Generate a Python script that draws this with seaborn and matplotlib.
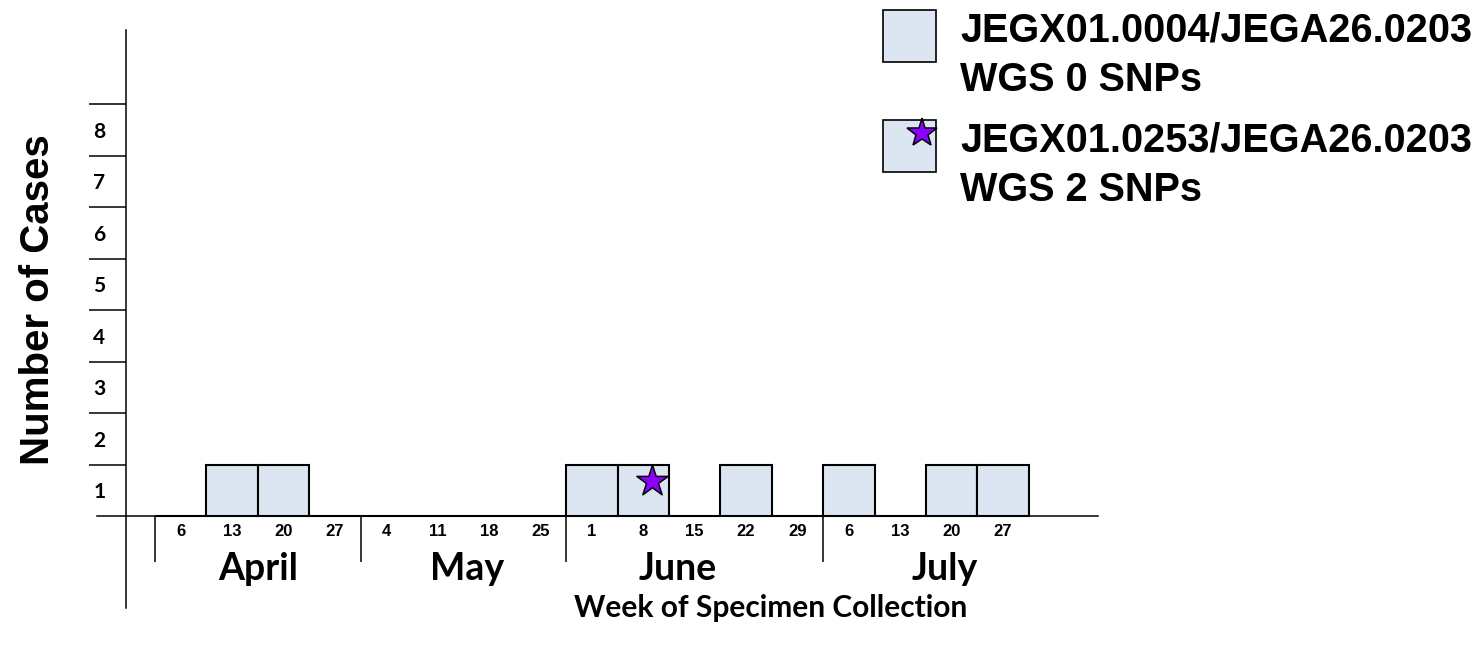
import numpy as np
import pandas as pd
import seaborn as sns
import matplotlib.pyplot as plt
from matplotlib.patches import Rectangle

# weeks of specimen collection (week starting dates)
settimane = ["Apr 6", "Apr 13", "Apr 20", "Apr 27",
             "May 4", "May 11", "May 18", "May 25",
             "Jun 1", "Jun 8", "Jun 15", "Jun 22", "Jun 29",
             "Jul 6", "Jul 13", "Jul 20", "Jul 27"]
giorni = ["6", "13", "20", "27", "4", "11", "18", "25",
          "1", "8", "15", "22", "29", "6", "13", "20", "27"]
casi = [0, 1, 1, 0, 0, 0, 0, 0, 1, 1, 0, 1, 0, 1, 0, 1, 1]
settimana_2snp = "Jun 8"
mesi = ["April", "May", "June", "July"]
prima_settimana_mese = ["Apr 6", "May 4", "Jun 1", "Jul 6"]
yticks = [1, 2, 3, 4, 5, 6, 7, 8]
legenda = ["JEGX01.0004/JEGA26.0203\nWGS 0 SNPs",
           "JEGX01.0253/JEGA26.0203\nWGS 2 SNPs"]

df = pd.DataFrame({"Settimana": settimane, "Casi": casi})

blu = "#DCE6F2"
viola = "#8B00FF"
calibri = "Lato"
arial = "Liberation Sans"

sns.set_style("white")
plt.rcParams["font.family"] = [arial, "DejaVu Sans"]
plt.rcParams["text.color"] = "black"
plt.rcParams["xtick.color"] = "black"
plt.rcParams["ytick.color"] = "black"

W, H = 1480, 651
fig = plt.figure(figsize=(W / 100, H / 100), dpi=100)
ax = fig.add_axes([0, 0, 1, 1])
ax.set_facecolor("none")

sns.barplot(data=df, x="Settimana", y="Casi", order=settimane, color=blu,
            saturation=1, width=1, edgecolor="black", linewidth=1.5, ax=ax)

# caso con 2 SNP: stella nella barra
pos = settimane.index(settimana_2snp)
ax.scatter([pos + 0.17], [casi[pos] - 0.32], marker="*", s=560, c=viola,
           edgecolors="black", linewidths=1.1, zorder=5)

ax.set_xlim(-3.514, 25.28)
ax.set_ylim(-2.621, 10.02)

for s in ["top", "right"]:
    ax.spines[s].set_visible(False)
ax.spines["left"].set_position(("data", -1.06))
ax.spines["left"].set_bounds(-1.79, 9.44)
ax.spines["bottom"].set_position(("data", 0))
ax.spines["bottom"].set_bounds(-1.63, 17.85)
for s in ["left", "bottom"]:
    ax.spines[s].set_linewidth(1.1)
    ax.spines[s].set_color("black")

# asse y
ax.set_yticks(yticks)
ax.set_yticklabels([])
ax.set_yticks([t - 0.5 for t in yticks], minor=True)
ax.set_yticklabels([str(t) for t in yticks], minor=True,
                   fontfamily=calibri, fontweight="bold", fontsize=15)
ax.tick_params(axis="y", which="major", left=True, direction="out", length=27, width=1.1)
ax.tick_params(axis="y", which="minor", left=True, length=0, pad=15)

# asse x
sep = [settimane.index(w) - 0.5 for w in prima_settimana_mese]
ax.set_xticks(sep)
ax.set_xticklabels([])
ax.set_xticks(range(len(settimane)), minor=True)
ax.set_xticklabels(giorni, minor=True, fontfamily=arial, fontweight="bold", fontsize=12)
ax.tick_params(axis="x", which="major", bottom=True, direction="out", length=33, width=1.1)
ax.tick_params(axis="x", which="minor", bottom=True, length=0, pad=6)
ax.set_xlabel("")
ax.set_ylabel("")

centri_mesi = [1.5, 5.57, 9.68, 14.87]
for m, c in zip(mesi, centri_mesi):
    ax.text(c, -1.25, m, ha="center", va="baseline", fontfamily=calibri,
            fontweight="bold", fontsize=27)

fig.text(771 / W, 1 - 608 / H, "Week of Specimen Collection", ha="center", va="center",
         fontfamily=calibri, fontweight="bold", fontsize=21.5)
fig.text(38 / W, 1 - 300 / H, "Number of Cases", ha="center", va="center",
         rotation=90, fontfamily=arial, fontweight="bold", fontsize=29)

# legenda
for i, lab in enumerate(legenda):
    top = 10 + i * 110
    fig.add_artist(Rectangle((883 / W, 1 - (top + 52) / H), 53 / W, 52 / H,
                             transform=fig.transFigure, facecolor=blu,
                             edgecolor="black", linewidth=1.2))
    for j, riga in enumerate(lab.split("\n")):
        fig.text(960 / W, 1 - (top + 32 + 49 * j) / H, riga, ha="left", va="baseline",
                 fontfamily=arial, fontweight="bold", fontsize=28.5)
fig.add_artist(plt.Line2D([922 / W], [1 - 133 / H], transform=fig.transFigure,
                          marker="*", markersize=22, markerfacecolor=viola,
                          markeredgecolor="black", markeredgewidth=1.1, linestyle="none"))

fig.savefig("out.png", dpi=100)
